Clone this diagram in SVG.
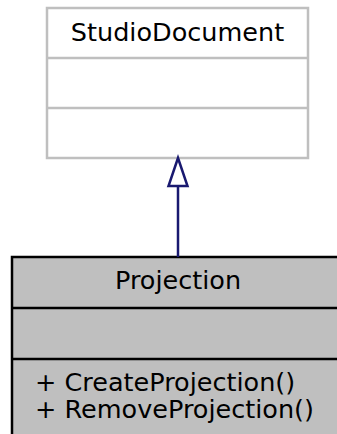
<svg xmlns="http://www.w3.org/2000/svg" width="337" height="434" viewBox="0 0 337 434">
<style>
text{font-family:"DejaVu Sans",sans-serif;font-size:25.5px;fill:#000}
.base{fill:#fff;stroke:#bfbfbf;stroke-width:2.5}
.cls{fill:#bfbfbf;stroke:#000;stroke-width:2.5}
.edge{stroke:#191970;stroke-width:2.5;fill:none}
.head{stroke:#191970;stroke-width:2.5;fill:#fff}
</style>
<g id="node-StudioDocument">
<rect class="base" x="47" y="8" width="261" height="150"/>
<line class="base" x1="47" y1="58" x2="308" y2="58"/>
<line class="base" x1="47" y1="108" x2="308" y2="108"/>
<text x="177.5" y="41" text-anchor="middle">StudioDocument</text>
</g>
<g id="node-Projection">
<rect class="cls" x="12" y="257" width="340" height="190"/>
<line class="cls" x1="12" y1="308" x2="352" y2="308"/>
<line class="cls" x1="12" y1="359" x2="352" y2="359"/>
<text x="178" y="289" text-anchor="middle">Projection</text>
<text x="35" y="391">+ CreateProjection()</text>
<text x="35" y="418">+ RemoveProjection()</text>
</g>
<g id="connectors">
<line class="edge" x1="178" y1="257" x2="178" y2="186"/>
<polygon class="head" points="178,158 168.5,186 187.5,186"/>
</g>
</svg>
